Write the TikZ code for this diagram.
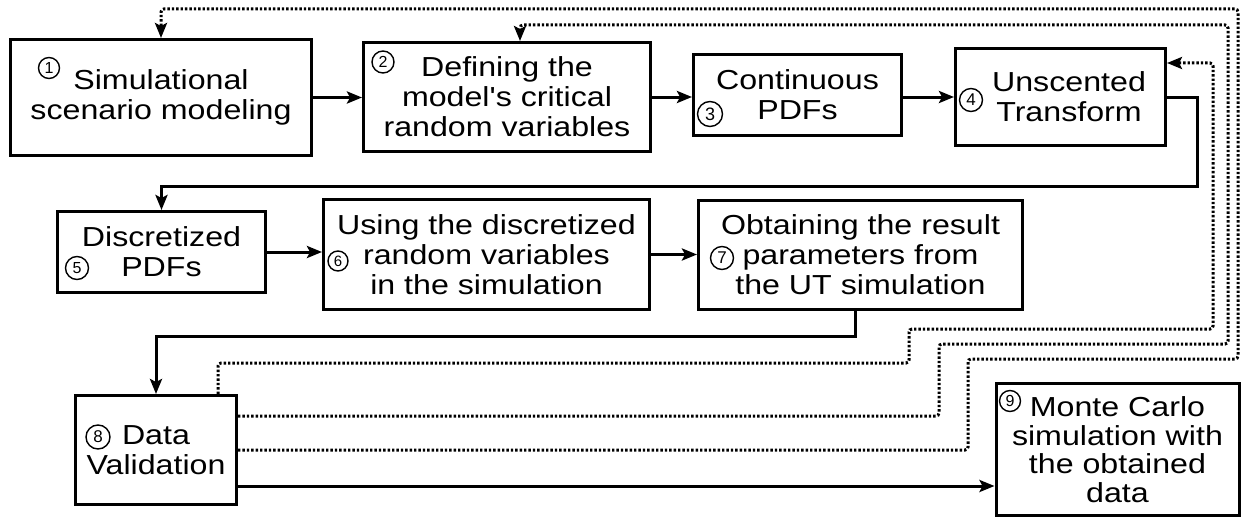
\documentclass[tikz,border=0pt]{standalone}
\usepackage{fontspec}
\usepackage{graphicx}
\setmainfont{Liberation Sans}[Ligatures=TeXOff]
\usetikzlibrary{arrows.meta,calc}
\newcommand{\sx}[1]{\scalebox{1.17}[1]{#1}}
\begin{document}
\begin{tikzpicture}[x=1pt,y=-1pt,
  box/.style={draw, line width=3pt, rectangle, inner sep=0pt, align=center,
    font=\fontsize{27.5}{30}\selectfont},
  txt/.style={inner sep=0pt, align=center, font=\fontsize{27.5}{30}\selectfont},
  num/.style={draw, circle, line width=1.4pt, inner sep=0pt,
    font=\fontsize{16}{16}\selectfont},
  tip/.style={-{Stealth[length=15pt,width=12pt,inset=3pt]}},
  flow/.style={line width=3pt, tip},
  back/.style={line width=3pt, dash pattern=on 2.4pt off 2pt, rounded corners=3pt, tip},
]
\useasboundingbox (0,0) rectangle (1242,519);

% boxes
\node[box, minimum width=301pt, minimum height=116pt] (b1) at (161,97.5) {\sx{Simulational}\\\sx{scenario modeling}};
\node[box, minimum width=287pt, minimum height=109pt] (b2) at (507,97) {\sx{Defining the}\\\sx{model's critical}\\\sx{random variables}};
\node[box, minimum width=208pt, minimum height=81pt] (b3) at (797.5,95) {\sx{Continuous}\\\sx{PDFs}};
\node[box, minimum width=210pt, minimum height=97pt] (b4) at (1060.5,97) {};
\node[txt] (t4) at (1069,97) {\sx{Unscented}\\\sx{Transform}};
\node[box, minimum width=208pt, minimum height=81pt] (b5) at (161.5,252) {\sx{Discretized}\\\sx{PDFs}};
\node[box, minimum width=326pt, minimum height=110pt] (b6) at (486.5,254.5) {\sx{Using the discretized}\\\sx{random variables}\\\sx{in the simulation}};
\node[box, minimum width=324pt, minimum height=109pt] (b7) at (860.5,255) {\sx{Obtaining the result}\\\sx{parameters from}\\\sx{the UT simulation}};
\node[box, minimum width=161pt, minimum height=109pt] (b8) at (156,450) {\sx{Data}\\\sx{Validation}};
\node[box, minimum width=243pt, minimum height=132pt, font=\fontsize{27.5}{28.5}\selectfont] (b9) at (1117.5,449.5) {\sx{Monte Carlo}\\\sx{simulation with}\\\sx{the obtained}\\\sx{data}};

% circled numbers
\node[num, minimum size=21pt] (n1) at (49,68) {1};
\node[num, minimum size=22pt] (n2) at (383,62) {2};
\node[num, minimum size=25pt, font=\fontsize{18}{18}\selectfont] (n3) at (710,114) {3};
\node[num, minimum size=23pt, font=\fontsize{17}{17}\selectfont] (n4) at (971,100) {4};
\node[num, minimum size=23pt] (n5) at (77,268) {5};
\node[num, minimum size=20pt, font=\fontsize{15}{15}\selectfont] (n6) at (338,261) {6};
\node[num, minimum size=23pt, font=\fontsize{17}{17}\selectfont] (n7) at (722,258) {7};
\node[num, minimum size=24pt, font=\fontsize{17}{17}\selectfont] (n8) at (98,437) {8};
\node[num, minimum size=21pt] (n9) at (1010,401) {9};

% forward flow
\draw[flow] (b1.east) -- (b1.east -| b2.west);
\draw[flow] (b2.east) -- (b2.east -| b3.west);
\draw[flow] (b4.west -| b3.east) -- (b4.west);
\draw[flow] (b4.east) -| (1197,186) -| (b5.north);
\draw[flow] (b5.east) -- (b5.east -| b6.west);
\draw[flow] (b6.east) -- (b6.east -| b7.west);
\draw[flow] ($(b7.south)+(-5,0)$) -- ++(0,25) -| (b8.north);
\coordinate (s89) at ($(b8.east)+(0,36)$);
\draw[flow] (s89) -- (s89 -| b9.west);

% feedback (dotted)
\draw[back] ($(b8.north)+(62,0)$) -- ++(0,-31) -| (909,329) -| (1213,63) -- ($(b4.east)+(0,-34)$);
\draw[back] ($(b8.east)+(0,-34)$) -| (939,344) -| (1228,25) -| ($(b2.north)+(13,0)$);
\draw[back] (b8.east) -| (968,359) -| (1238,9) -| (b1.north);
\end{tikzpicture}
\end{document}
